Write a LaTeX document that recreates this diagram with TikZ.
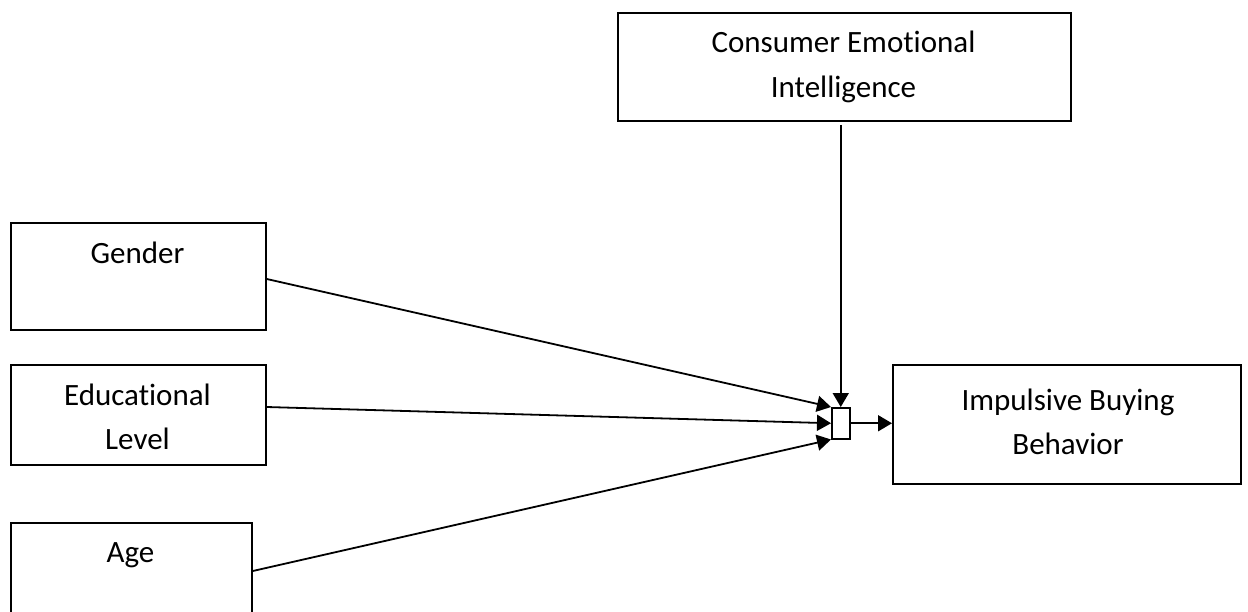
\documentclass[tikz,border=0pt]{standalone}
\usepackage{fontspec}
\setmainfont[Ligatures=NoCommon]{Carlito}
\usetikzlibrary{arrows.meta,calc}
\begin{document}
\begin{tikzpicture}[x=1pt,y=-1pt,
  box/.style={draw=black,line width=1.8pt,fill=white,rectangle,inner sep=0pt,anchor=north west},
  lbl/.style={font=\fontsize{31}{44}\selectfont,inner sep=0pt,anchor=base},
  arr/.style={draw=black,line width=1.8pt,-{Triangle[length=14pt,width=16pt]}}]
\useasboundingbox (0,0) rectangle (1248,611);
\clip (0,0) rectangle (1248,611);
% boxes
\node[box,minimum width=453pt,minimum height=108pt] (cei) at (617,12) {};
\node[box,minimum width=255pt,minimum height=107pt] (gen) at (10,222) {};
\node[box,minimum width=255pt,minimum height=100pt] (edu) at (10,364) {};
\node[box,minimum width=241pt,minimum height=130pt] (age) at (10,522) {};
\node[box,minimum width=348pt,minimum height=119pt] (imp) at (892,364) {};
\node[box,minimum width=18pt,minimum height=31pt,line width=1.5pt] (mod) at (831,407) {};
% labels
\node[lbl] (t1) at (843.5,52) {Consumer Emotional};
\node[lbl] (t2) at (843.5,97) {Intelligence};
\node[lbl] (t3) at (137.5,263) {Gender};
\node[lbl] (t4) at (137.5,405) {Educational};
\node[lbl] (t5) at (137.5,449) {Level};
\node[lbl] (t6) at (130.5,562) {Age};
\node[lbl] (t7) at (1068,410) {Impulsive Buying};
\node[lbl] (t8) at (1068,454) {Behavior};
% connectors
\draw[arr] ($(gen.north east)+(0,57)$) -- (mod.north west);
\draw[arr] ($(edu.north east)+(0,43)$) -- (mod.west);
\draw[arr] ($(age.north east)+(0,49)$) -- (mod.south west);
\draw[arr] ($(mod.north |- cei.south)+(0,3)$) -- (mod.north);
\draw[arr] (mod.east) -- (mod.east -| imp.west);
\end{tikzpicture}
\end{document}
